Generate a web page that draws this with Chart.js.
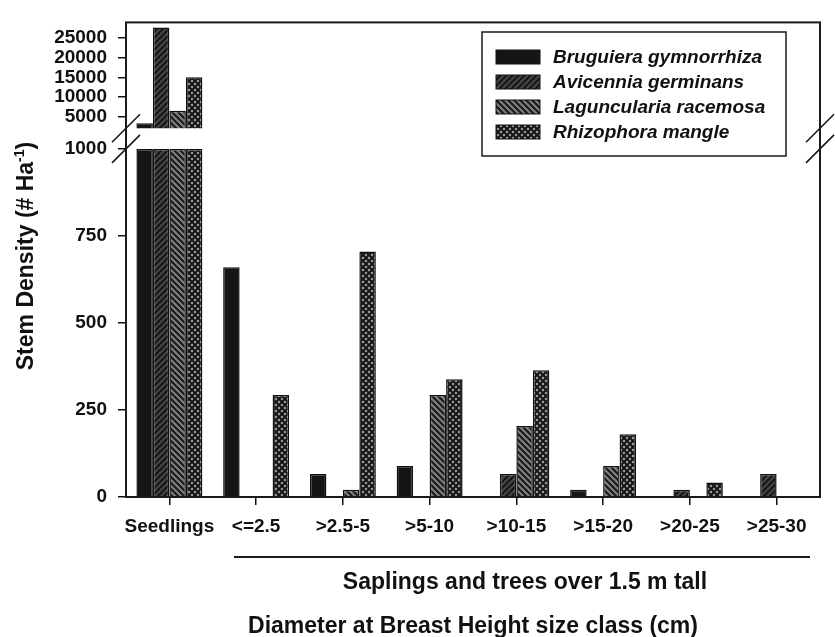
<!DOCTYPE html>
<html>
<head>
<meta charset="utf-8">
<script src="https://cdn.jsdelivr.net/npm/chart.js@4.4.1/dist/chart.umd.min.js"></script>
<style>
  html, body { margin: 0; padding: 0; background: #fff; }
  #wrap { width: 835px; height: 637px; position: relative; }
</style>
</head>
<body>
<div id="wrap"><canvas id="chart"></canvas></div>
<script>
// Stem density per size class
const categories = ['Seedlings', '<=2.5', '>2.5-5', '>5-10', '>10-15', '>15-20', '>20-25', '>25-30'];
const bruguiera = [3300, 660, 66, 89, 0, 21, 0, 0];
const avicennia = [27700, 0, 0, 0, 66, 0, 21, 66];
const laguncularia = [6500, 0, 21, 293, 204, 89, 0, 0];
const rhizophora = [15000, 293, 705, 338, 364, 180, 42, 0];
const speciesNames = ['Bruguiera gymnorrhiza', 'Avicennia germinans', 'Laguncularia racemosa', 'Rhizophora mangle'];

// broken y axis: lower part 0-1000, upper part 2000-29000
const lowerTicks = [0, 250, 500, 750, 1000];
const upperTicks = [5000, 10000, 15000, 20000, 25000];
const lowerMax = 1000;
const upperMin = 2000;
const upperMax = 29000;

const FONT = '"Liberation Sans", Arial, Helvetica, sans-serif';

function makePattern(bg, draw) {
    const c = document.createElement('canvas');
    c.width = 6;
    c.height = 6;
    const g = c.getContext('2d');
    g.fillStyle = bg;
    g.fillRect(0, 0, 6, 6);
    draw(g);
    return g.createPattern(c, 'repeat');
}

function lines(g, segs, color, width) {
    g.strokeStyle = color;
    g.lineWidth = width;
    g.beginPath();
    segs.forEach(s => { g.moveTo(s[0], s[1]); g.lineTo(s[2], s[3]); });
    g.stroke();
}

const slash = [[-1, 7, 7, -1], [-1, 1, 1, -1], [5, 7, 7, 5]];
const backslash = [[-1, -1, 7, 7], [-1, 5, 1, 7], [5, -1, 7, 1]];

const fills = [
    '#151515',
    makePattern('#444444', g => lines(g, slash, '#121212', 1.9)),
    makePattern('#808080', g => lines(g, backslash, '#1a1a1a', 2.1)),
    makePattern('#a4a4a4', g => { lines(g, slash, '#161616', 2); lines(g, backslash, '#161616', 2); })
];

const series = [bruguiera, avicennia, laguncularia, rhizophora];
const datasets = [];
series.forEach((vals, i) => {
    datasets.push({
        label: speciesNames[i],
        data: vals.map(v => Math.min(v, lowerMax)),
        yAxisID: 'y',
        stack: 's' + i,
        backgroundColor: fills[i]
    });
});
series.forEach((vals, i) => {
    datasets.push({
        label: speciesNames[i],
        data: vals.map(v => v > lowerMax ? v : null),
        yAxisID: 'yTop',
        stack: 's' + i,
        backgroundColor: fills[i]
    });
});

const tickFont = { family: FONT, size: 19, weight: 'bold' };

const decor = {
    id: 'decor',
    afterDraw(chart) {
        const ctx = chart.ctx;
        const a = chart.chartArea;
        const yTop = chart.scales.yTop;
        const yLow = chart.scales.y;
        ctx.save();

        // frame
        ctx.strokeStyle = '#1a1a1a';
        ctx.lineWidth = 2;
        ctx.strokeRect(a.left, a.top, a.right - a.left, a.bottom - a.top);

        // break marks
        ctx.lineWidth = 1.6;
        ctx.beginPath();
        [a.left, a.right].forEach(x => {
            [yTop.bottom, yLow.top].forEach(y => {
                ctx.moveTo(x - 14, y + 14);
                ctx.lineTo(x + 14, y - 14);
            });
        });
        ctx.stroke();

        // legend
        const lx = 482, ly = 32, lw = 304, lh = 124;
        ctx.fillStyle = '#fff';
        ctx.fillRect(lx, ly, lw, lh);
        ctx.lineWidth = 1.5;
        ctx.strokeRect(lx, ly, lw, lh);
        ctx.font = 'italic bold 19px ' + FONT;
        ctx.textBaseline = 'middle';
        ctx.textAlign = 'left';
        chart.data.datasets.slice(0, 4).forEach((ds, i) => {
            const cy = ly + 25 + i * 25;
            ctx.fillStyle = ds.backgroundColor;
            ctx.fillRect(lx + 14, cy - 7, 44, 14);
            ctx.lineWidth = 1;
            ctx.strokeStyle = '#111';
            ctx.strokeRect(lx + 14, cy - 7, 44, 14);
            ctx.fillStyle = '#111';
            ctx.fillText(ds.label, lx + 71, cy + 1);
        });

        // y title with superscript
        ctx.save();
        ctx.translate(25, 256);
        ctx.rotate(-Math.PI / 2);
        const big = 'bold 23px ' + FONT;
        const small = 'bold 14px ' + FONT;
        const p1 = 'Stem Density (# Ha', p2 = '-1', p3 = ')';
        ctx.font = big;
        const w1 = ctx.measureText(p1).width, w3 = ctx.measureText(p3).width;
        ctx.font = small;
        const w2 = ctx.measureText(p2).width;
        let x0 = -(w1 + w2 + w3) / 2;
        ctx.fillStyle = '#111';
        ctx.textBaseline = 'alphabetic';
        ctx.font = big;
        ctx.fillText(p1, x0, 8);
        ctx.font = small;
        ctx.fillText(p2, x0 + w1, -1);
        ctx.font = big;
        ctx.fillText(p3, x0 + w1 + w2, 8);
        ctx.restore();

        // saplings bracket and titles
        ctx.strokeStyle = '#1a1a1a';
        ctx.lineWidth = 2;
        ctx.beginPath();
        ctx.moveTo(234, 557);
        ctx.lineTo(810, 557);
        ctx.stroke();
        ctx.fillStyle = '#111';
        ctx.font = 'bold 23px ' + FONT;
        ctx.textAlign = 'center';
        ctx.textBaseline = 'alphabetic';
        ctx.fillText('Saplings and trees over 1.5 m tall', 525, 589);
        ctx.fillText('Diameter at Breast Height size class (cm)', (a.left + a.right) / 2, 633);
        ctx.restore();
    }
};

const plainNumber = v => String(v);

new Chart(document.getElementById('chart'), {
    type: 'bar',
    data: { labels: categories, datasets: datasets },
    options: {
        responsive: true,
        maintainAspectRatio: false,
        animation: false,
        layout: { padding: { top: 13, right: 15, left: 0, bottom: 0 } },
        datasets: {
            bar: {
                categoryPercentage: 0.76,
                barPercentage: 1,
                borderWidth: 1.5,
                borderColor: '#111',
                borderSkipped: 'start'
            }
        },
        plugins: { legend: { display: false }, tooltip: { enabled: false } },
        scales: {
            x: {
                grid: { display: true, drawOnChartArea: false, offset: false, tickLength: 8, color: '#111', lineWidth: 1.5 },
                border: { display: false },
                ticks: { font: { family: FONT, size: 19, weight: 'bold' }, color: '#111', padding: 10, maxRotation: 0, autoSkip: false },
                afterFit(scale) { scale.height = 140; }
            },
            // stacked left axes: the last one defined is placed on top
            y: {
                type: 'linear',
                position: 'left',
                stack: 'v',
                stackWeight: 355,
                min: 0,
                max: lowerMax,
                afterBuildTicks(scale) { scale.ticks = lowerTicks.map(v => ({ value: v })); },
                grid: { display: true, drawOnChartArea: false, tickLength: 8, color: '#111', lineWidth: 1.5 },
                border: { display: false },
                ticks: { font: tickFont, color: '#111', padding: 11, autoSkip: false, callback: plainNumber },
                afterFit(scale) { scale.width = 126; }
            },
            yGap: {
                type: 'linear',
                axis: 'y',
                position: 'left',
                stack: 'v',
                stackWeight: 21,
                grid: { display: false },
                border: { display: false },
                ticks: { display: false },
                afterFit(scale) { scale.width = 126; }
            },
            yTop: {
                type: 'linear',
                position: 'left',
                stack: 'v',
                stackWeight: 108,
                min: upperMin,
                max: upperMax,
                afterBuildTicks(scale) { scale.ticks = upperTicks.map(v => ({ value: v })); },
                grid: { display: true, drawOnChartArea: false, tickLength: 8, color: '#111', lineWidth: 1.5 },
                border: { display: false },
                ticks: { font: tickFont, color: '#111', padding: 11, autoSkip: false, callback: plainNumber },
                afterFit(scale) { scale.width = 126; }
            }
        }
    },
    plugins: [decor]
});
</script>
</body>
</html>
